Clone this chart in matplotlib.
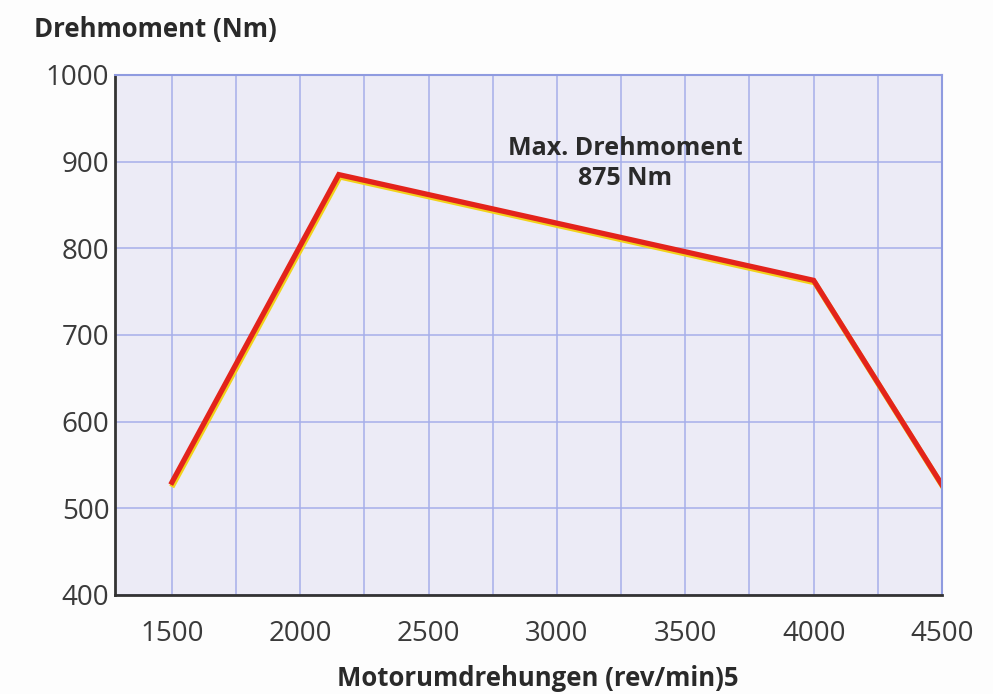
import matplotlib.pyplot as plt
import matplotlib.transforms as mtransforms
import numpy as np

plt.rcParams['font.family'] = ['Open Sans', 'DejaVu Sans']

# data
rpm = [1500, 2150, 4000, 4500]
torque = [530, 885, 763, 527]
xticks = [1500, 2000, 2500, 3000, 3500, 4000, 4500]
yticks = [400, 500, 600, 700, 800, 900, 1000]

fig = plt.figure(figsize=(9.93, 6.94), dpi=100, facecolor='#fdfdfd')
ax = fig.add_axes([0.1158, 0.1427, 0.8328, 0.7493])
ax.set_facecolor('#ecebf6')

ax.set_xlim(1278, 4500)
ax.set_ylim(400, 1000)
ax.set_xticks(xticks)
ax.set_yticks(yticks)
ax.set_xticks(np.arange(1750, 4500, 500), minor=True)
ax.grid(True, which='both', color='#a6aeea', lw=1.1)
ax.set_axisbelow(True)

ax.tick_params(which='both', length=0, labelsize=20, labelcolor='#3a3a3a', pad=18)
ax.tick_params(axis='y', pad=4)

for s in ['top', 'right']:
    ax.spines[s].set_color('#8f9be0')
    ax.spines[s].set_linewidth(1.5)
for s in ['left', 'bottom']:
    ax.spines[s].set_color('#333333')
    ax.spines[s].set_linewidth(2)

# yellow edge under the red line
shadow = mtransforms.offset_copy(ax.transData, fig=fig, x=0.8, y=-1.6, units='points')
ax.plot(rpm, torque, color='#f2d21a', lw=4.0, transform=shadow, solid_joinstyle='miter')
ax.plot(rpm, torque, color='#e3231b', lw=3.8, solid_joinstyle='miter')

ax.text(3265, 898, 'Max. Drehmoment\n875 Nm', ha='center', va='center',
        fontsize=18, fontweight='bold', color='#2a2a2a', linespacing=1.3)

fig.text(0.034, 0.958, 'Drehmoment (Nm)', fontsize=18.5, fontweight='bold',
         color='#2a2a2a', ha='left', va='center')
fig.text(0.542, 0.022, 'Motorumdrehungen (rev/min)5', fontsize=18.5, fontweight='bold',
         color='#2a2a2a', ha='center', va='center')

fig.savefig('out.png', dpi=100, facecolor=fig.get_facecolor())
